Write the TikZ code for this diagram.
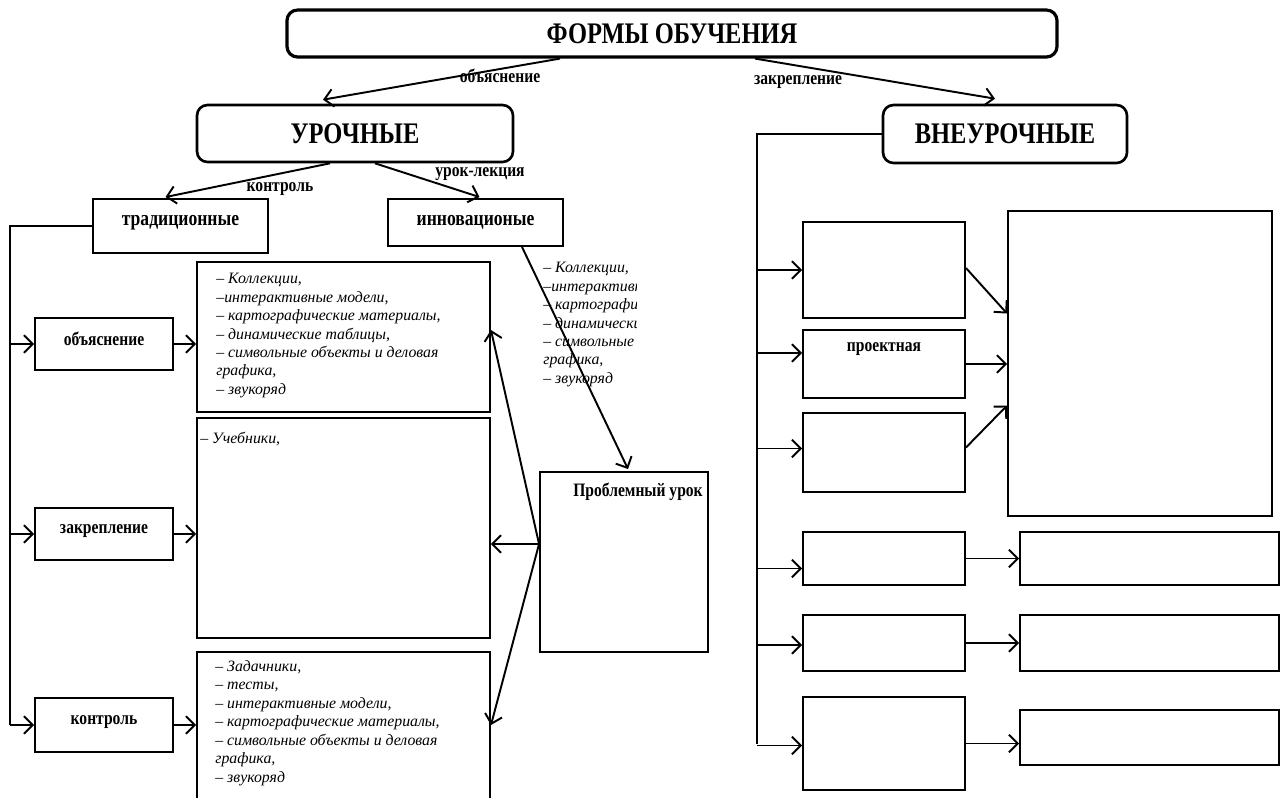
\documentclass[tikz,border=0pt]{standalone}
\usepackage{fontspec}
\setmainfont{Liberation Serif}
\newfontfamily\condfont[FakeStretch=0.82]{Liberation Serif}
\usetikzlibrary{arrows.meta,calc}

\tikzset{
  box/.style={draw, line width=1.1pt, inner sep=0pt},
  rbox/.style={box, rounded corners=6pt, line width=1.5pt},
  head/.style={font=\condfont\fontsize{17}{19}\selectfont\bfseries},
  lbl/.style={font=\condfont\fontsize{10.8}{12}\selectfont\bfseries, inner sep=0pt},
  biglbl/.style={lbl, font=\condfont\fontsize{12.2}{14}\selectfont\bfseries},
  lst/.style={font=\fontsize{9}{10.5}\selectfont\itshape, align=left, inner sep=0pt, anchor=north west},
  arr/.style={line width=1.1pt, -{Straight Barb[length=5pt,width=10pt]}},
  ln/.style={line width=1.1pt},
}

\begin{document}
\begin{tikzpicture}[x=0.2mm,y=-0.2mm]
    \useasboundingbox (0,0) rectangle (1281,797);

    % top levels
    \node[rbox, head, line width=1.8pt, minimum width=154mm, minimum height=9.4mm] (forms) at (672,33.5) {ФОРМЫ ОБУЧЕНИЯ};
    \node[rbox, head, minimum width=63.2mm, minimum height=11.4mm] (uroch) at (355,133.5) {УРОЧНЫЕ};
    \node[rbox, head, minimum width=48.8mm, minimum height=11.6mm] (vneur) at (1005,134) {ВНЕУРОЧНЫЕ};

    \draw[arr] ($(forms.south)+(-112,0)$) -- ($(uroch.north)+(-32,-4)$);
    \draw[arr] ($(forms.south)+(83,0)$) -- ($(vneur.north)+(-10,-5)$);
    \node[lbl] (lblexpl) at (500,76) {объяснение};
    \node[lbl] (lblzakr) at (798,82) {закрепление};

    % lessons
    \node[box, biglbl, minimum width=35mm, minimum height=10.8mm, text depth=2.2mm] (trad) at (180.5,226) {традиционные};
    \node[box, biglbl, minimum width=35mm, minimum height=9.4mm] (innov) at (475.5,222.5) {инновационые};

    \draw[arr] ($(uroch.south)+(-25,0)$) -- ($(trad.north)+(-15,-1)$);
    \draw[arr] ($(uroch.south)+(20,0)$) -- ($(innov.north)+(4,-1)$);
    \node[lbl] (lblkontr) at (280,189) {контроль};
    \node[lbl] (lbllect) at (480,174) {урок-лекция};

    \node[box, lbl, minimum width=27.6mm, minimum height=10.4mm, text depth=2mm] (expl) at (104,344) {объяснение};
    \node[box, lbl, minimum width=27.6mm, minimum height=10.4mm, text depth=2mm] (zakr) at (104,534) {закрепление};
    \node[box, lbl, minimum width=27.6mm, minimum height=10.8mm, text depth=2mm] (kontr) at (104,725) {контроль};

    \node[box, minimum width=58.6mm, minimum height=30mm] (list1) at (343.5,337) {};
    \node[box, minimum width=58.6mm, minimum height=44mm] (list2) at (343.5,528) {};
    \node[box, minimum width=58.6mm, minimum height=30mm] (list3) at (343.5,727) {};

    \node[lst] (list1txt) at (216,273) {– Коллекции,\\–интерактивные модели,\\– картографические материалы,\\– динамические таблицы,\\– символьные объекты и деловая\\графика,\\– звукоряд};
    \node[lst] (list2txt) at (200,432) {– Учебники,};
    \node[lst] (list3txt) at (215,660) {– Задачники,\\– тесты,\\– интерактивные модели,\\– картографические материалы,\\– символьные объекты и деловая\\графика,\\– звукоряд};

    \begin{scope}
      \clip (530,255) rectangle (636,395);
      \node[lst] (freetxt) at (543,262) {– Коллекции,\\–интерактивные модели,\\– картографические материалы,\\– динамические таблицы,\\– символьные объекты и деловая\\графика,\\– звукоряд};
    \end{scope}

    \node[box, minimum width=33.6mm, minimum height=36mm] (probl) at (624,562) {};
    \node[lbl] (probltxt) at ($(probl.north)+(14,21)$) {Проблемный урок};

    % left trunk
    \coordinate (ltrunk) at (10,0);
    \draw[ln] (trad.west) -- (trad.west -| ltrunk) -- (kontr.west -| ltrunk);
    \foreach \n in {expl,zakr,kontr}
      \draw[arr] (\n.west -| ltrunk) -- (\n.west);
    \draw[arr] (expl.east) -- (expl.east -| list1.west);
    \draw[arr] (zakr.east) -- (zakr.east -| list2.west);
    \draw[arr] (kontr.east) -- (kontr.east -| list3.west);

    \draw[arr] ($(innov.south)+(46.5,0)$) -- ($(probl.north)+(4,-2)$);
    \coordinate (pw) at ($(probl.west)+(0,-18)$);
    \draw[arr] (pw) -- ($(list1.east)+(0,-7)$);
    \draw[arr] (pw) -- (list2.east |- pw);
    \draw[arr] (pw) -- ($(list3.east)+(0,-2)$);

    % extracurricular
    \node[box, minimum width=32.4mm, minimum height=19.2mm] (actA) at (884,270) {};
    \node[box, minimum width=32.4mm, minimum height=13.6mm] (actB) at (884,364) {};
    \node[lbl] (actBtxt) at ($(actB.north)+(0,20)$) {проектная};
    \node[box, minimum width=32.4mm, minimum height=15.8mm] (actC) at (884,452.5) {};
    \node[box, minimum width=32.4mm, minimum height=10.6mm] (actD) at (884,558.5) {};
    \node[box, minimum width=32.4mm, minimum height=11.2mm] (actE) at (884,643) {};
    \node[box, minimum width=32.4mm, minimum height=18.6mm] (actF) at (884,743.5) {};

    \node[box, minimum width=52.8mm, minimum height=61mm] (res) at (1140,363.5) {};
    \node[box, minimum width=51.8mm, minimum height=10.6mm] (resD) at (1149.5,558.5) {};
    \node[box, minimum width=51.8mm, minimum height=11.2mm] (resE) at (1149.5,643) {};
    \node[box, minimum width=51.8mm, minimum height=11mm] (resF) at (1149.5,737.5) {};

    \coordinate (rtrunk) at (757,0);
    \draw[ln] (vneur.west) -- (vneur.west -| rtrunk) -- (actF.west -| rtrunk);
    \foreach \n/\dy in {actA/0,actB/-11,actC/-4,actD/10,actE/2,actF/2}
      \draw[arr] ($(\n.west -| rtrunk)+(0,\dy)$) -- ($(\n.west)+(0,\dy)$);

    \draw[arr] ($(actA.east)+(0,-2)$) -- ($(res.west)+(0,-50)$);
    \draw[arr] (actB.east) -- (actB.east -| res.west);
    \draw[arr] ($(actC.east)+(0,-5)$) -- ($(res.west)+(0,42)$);
    \draw[arr] (actD.east) -- (resD.west);
    \draw[arr] (actE.east) -- (resE.west);
    \draw[arr] (actF.east) -- (actF.east -| resF.west);
\end{tikzpicture}
\end{document}
